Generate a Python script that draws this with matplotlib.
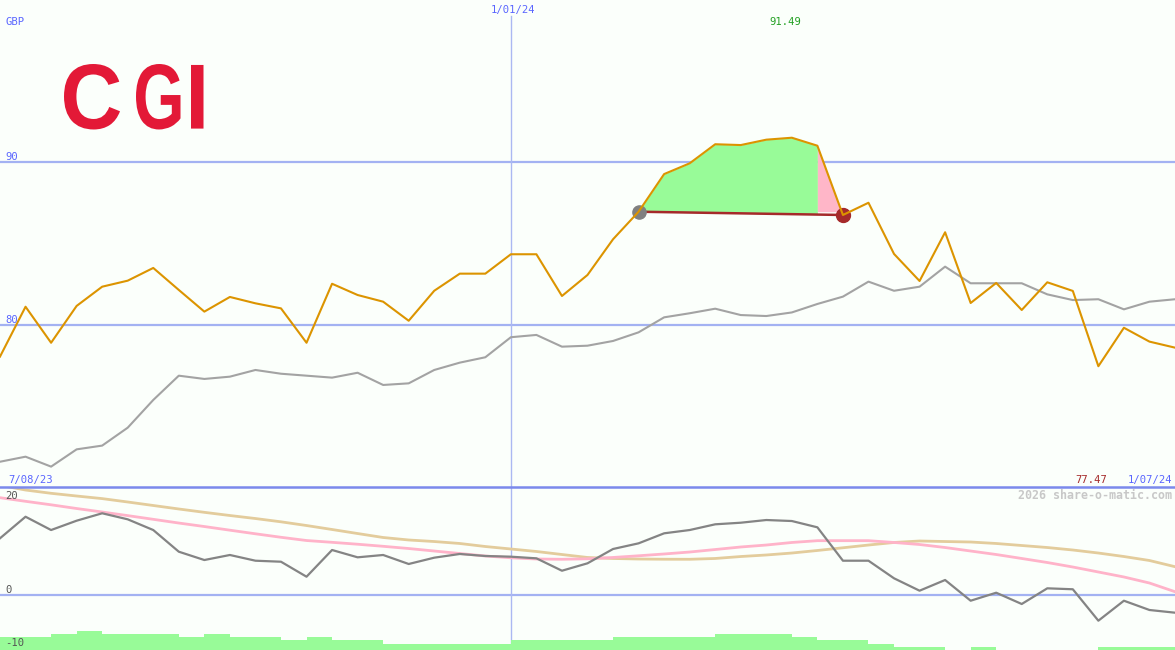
import numpy as np
import pandas as pd
import matplotlib
matplotlib.use('Agg')
import matplotlib.pyplot as plt
from matplotlib.lines import Line2D
from matplotlib.patheffects import AbstractPathEffect
from matplotlib.path import Path
from matplotlib.transforms import IdentityTransform

# ---------------- data ----------------
start_date = '2023-08-14'
n_points = 47
year_mark = '2024-01-01'

price = [78.06, 81.12, 78.91, 81.17, 82.35, 82.72, 83.50, 82.15, 80.82, 81.72,
         81.33, 81.02, 78.91, 82.53, 81.84, 81.43, 80.26, 82.10, 83.15, 83.15,
         84.34, 84.34, 81.78, 83.07, 85.26, 86.95, 89.26, 89.92, 91.09, 91.04,
         91.37, 91.49, 91.00, 86.75, 87.50, 84.36, 82.70, 85.69, 81.35, 82.58,
         80.92, 82.62, 82.09, 77.47, 79.83, 78.98, 78.61]

avg_price = [71.61, 71.92, 71.31, 72.37, 72.60, 73.70, 75.40, 76.89, 76.69, 76.83,
             77.24, 77.01, 76.89, 76.77, 77.07, 76.32, 76.42, 77.24, 77.69, 78.02,
             79.25, 79.39, 78.67, 78.73, 79.02, 79.55, 80.47, 80.72, 81.00, 80.61,
             80.55, 80.77, 81.29, 81.74, 82.66, 82.10, 82.35, 83.58, 82.56, 82.56,
             82.56, 81.88, 81.53, 81.58, 80.96, 81.43, 81.58]

momentum = [10.70, 14.77, 12.26, 14.02, 15.42, 14.28, 12.26, 8.17, 6.60, 7.55,
            6.47, 6.28, 3.45, 8.49, 7.11, 7.55, 5.85, 7.04, 7.74, 7.36,
            7.23, 6.92, 4.58, 5.98, 8.68, 9.75, 11.64, 12.26, 13.34, 13.64,
            14.15, 13.96, 12.77, 6.47, 6.47, 3.15, 0.81, 2.83, -1.08, 0.43,
            -1.70, 1.26, 1.08, -4.85, -1.08, -2.83, -3.34]

signal_fast = [18.36, 17.68, 17.02, 16.32, 15.66, 14.98, 14.28, 13.58, 12.92, 12.23,
               11.55, 10.89, 10.28, 9.94, 9.58, 9.19, 8.77, 8.30, 7.83, 7.36,
               7.02, 6.79, 6.74, 6.83, 7.08, 7.40, 7.74, 8.11, 8.58, 9.06,
               9.43, 9.91, 10.25, 10.25, 10.25, 9.91, 9.53, 8.96, 8.30, 7.64,
               6.89, 6.13, 5.28, 4.34, 3.40, 2.26, 0.62]

signal_slow = [20.70, 19.81, 19.19, 18.68, 18.19, 17.55, 16.89, 16.23, 15.60, 15.00,
               14.43, 13.81, 13.11, 12.36, 11.60, 10.85, 10.38, 10.09, 9.72, 9.15,
               8.68, 8.21, 7.64, 7.08, 6.89, 6.79, 6.75, 6.74, 6.89, 7.26,
               7.55, 7.92, 8.40, 8.91, 9.43, 9.91, 10.19, 10.09, 10.00, 9.72,
               9.34, 8.96, 8.49, 7.92, 7.26, 6.51, 5.34]

volume = [4, 4, 5, 6, 5, 5, 5, 4, 5, 4,
          4, 3, 4, 3, 3, 2, 2, 2, 2, 2,
          3, 3, 3, 3, 4, 4, 4, 4, 5, 5,
          5, 4, 3, 3, 2, 1, 1, 0, 1, 0,
          0, 0, 0, 1, 1, 1]

buy_idx = 25
sell_idx = 33
top_grid = [90, 80]
top_grid_labels = ['90', '80']
bottom_grid_labels = ['20', '0', '-10']
currency = 'GBP'
start_label = '7/08/23'
end_label = '1/07/24'
mid_label = '1/01/24'
max_label = '91.49'
min_label = '77.47'
credit = '2026 share-o-matic.com'
logo_text = 'CGI'

dates = pd.date_range(start_date, periods=n_points, freq='7D')

# ---------------- style ----------------
W, H = 1175, 650
BG = '#fbfffb'
ORANGE = '#dc9400'
GRID = '#a3b2f2'
BORDER = '#7b89ec'
BLUE_TXT = '#5a66ff'
mono = 'DejaVu Sans Mono'


class FitGlyphs(AbstractPathEffect):
    """Draw each glyph contour of a text stretched into a target pixel box."""

    def __init__(self, xboxes, ybox):
        super().__init__()
        self.xboxes = xboxes
        self.ybox = ybox

    def draw_path(self, renderer, gc, tpath, affine, rgbFace=None):
        verts = affine.transform(tpath.vertices).copy()
        codes = tpath.codes
        valid = codes != Path.CLOSEPOLY
        starts = list(np.where(codes == Path.MOVETO)[0])
        ends = starts[1:] + [len(codes)]
        segs = sorted(zip(starts, ends),
                      key=lambda se: verts[se[0]:se[1]][valid[se[0]:se[1]], 0].min())
        yv = verts[valid, 1]
        y0, y1 = yv.min(), yv.max()
        out = verts.copy()
        for k, (s, e) in enumerate(segs):
            m = valid[s:e]
            xs_ = verts[s:e, 0]
            x0, x1 = xs_[m].min(), xs_[m].max()
            bx0, bx1 = self.xboxes[min(k, len(self.xboxes) - 1)]
            out[s:e, 0] = bx0 + (xs_ - x0) / (x1 - x0) * (bx1 - bx0)
        out[:, 1] = self.ybox[0] + (verts[:, 1] - y0) / (y1 - y0) * (self.ybox[1] - self.ybox[0])
        renderer.draw_path(gc, Path(out, codes), IdentityTransform(), rgbFace)


fig = plt.figure(figsize=(W / 100, H / 100), dpi=100, facecolor=BG)
split = (H - 487) / H
ax = fig.add_axes([0, split, 1, 1 - split])
bx = fig.add_axes([0, 0, 1, split])
for a in (ax, bx):
    a.set_facecolor(BG)
    for s in a.spines.values():
        s.set_visible(False)
    a.set_xticks([])
    a.set_yticks([])
    a.set_xlim(dates[0], dates[-1])

ax.set_ylim(70.06, 99.94)
bx.set_ylim(-10.38, 20.38)

# grid lines
for g in top_grid:
    ax.axhline(g, color=GRID, lw=1.6, zorder=1)
bx.axhline(0, color=GRID, lw=1.6, zorder=1)
vx = pd.Timestamp(year_mark)
ax.axvline(vx, ymin=0, ymax=1 - 16 / 487, color='#abb8f2', lw=1.0, zorder=1)
bx.axvline(vx, color='#abb8f2', lw=1.0, zorder=1)

# top panel
p = np.array(price)
xs = dates[buy_idx:sell_idx + 1]
base_line = np.linspace(p[buy_idx], p[sell_idx], sell_idx - buy_idx + 1)
k = sell_idx - 1 - buy_idx
ax.fill_between(xs[:k + 1], p[buy_idx:sell_idx], base_line[:k + 1],
                color='#98fb98', lw=0, zorder=2)
ax.fill_between(xs[k:], p[sell_idx - 1:sell_idx + 1], p[buy_idx],
                color='#ffb6c8', lw=0, zorder=2)
ax.plot(xs, base_line, color='#a52a2a', lw=1.8, zorder=3)
ax.plot(dates, avg_price, color='#a3a3a3', lw=1.5, zorder=3)
ax.plot([dates[buy_idx]], [p[buy_idx]], 'o', ms=9.5, color='#808080', zorder=4)
ax.plot([dates[sell_idx]], [p[sell_idx]], 'o', ms=10, color='#a52a2a', zorder=4)
ax.plot(dates, price, color=ORANGE, lw=1.5, zorder=5)

# bottom panel
bar_scale = 0.6
bx.bar(dates[:-1], np.array(volume) * bar_scale, width=7, align='edge',
       bottom=-10.38, color='#98fb98', lw=0, zorder=2)
bx.plot(dates, signal_slow, color='#e3cc9c', lw=2.0, zorder=3)
bx.plot(dates, signal_fast, color='#ffb3c9', lw=2.0, zorder=3)
bx.plot(dates, momentum, color='#848484', lw=1.6, zorder=4)

# panel border
fig.add_artist(Line2D([0, 1], [split, split], transform=fig.transFigure,
                      color=BORDER, lw=1.8, zorder=10))

# ---------------- texts ----------------
def ftext(x, y, s, **kw):
    return fig.text(x / W, 1 - y / H, s, va='baseline', **kw)

fs = 7.6
ftext(5, 25, currency, color=BLUE_TXT, fontsize=fs, family=mono)
ftext(5, 159.5, top_grid_labels[0], color=BLUE_TXT, fontsize=fs, family=mono)
ftext(5, 322.7, top_grid_labels[1], color=BLUE_TXT, fontsize=fs, family=mono)
ftext(513, 13.3, mid_label, color=BLUE_TXT, fontsize=fs, family=mono, ha='center')
ftext(785, 25, max_label, color='#22a022', fontsize=fs, family=mono, ha='center')
ftext(8, 482.7, start_label, color=BLUE_TXT, fontsize=fs, family=mono)
ftext(1091, 482.7, min_label, color='#a52a2a', fontsize=fs, family=mono, ha='center')
ftext(1172.5, 482.7, end_label, color=BLUE_TXT, fontsize=fs, family=mono, ha='right')
ftext(1172.5, 499, credit, color='#c8c8c8', fontsize=8.4, family=mono,
      weight='bold', ha='right')
ftext(5, 499.3, bottom_grid_labels[0], color='#555555', fontsize=fs, family=mono)
ftext(5, 592.7, bottom_grid_labels[1], color='#555555', fontsize=fs, family=mono)
ftext(5, 646, bottom_grid_labels[2], color='#555555', fontsize=fs, family=mono)

# logo (one text, each glyph fitted into the logo's letter boxes)
logo = ftext(64, 129, logo_text, color='#e31937', fontsize=50,
             family='Liberation Sans', weight='bold', ha='left')
logo.set_path_effects([FitGlyphs([(64, 120), (136, 180.5), (191, 203.5)],
                                 (H - 129.5, H - 64))])

fig.savefig('out.png', dpi=100, facecolor=BG)
